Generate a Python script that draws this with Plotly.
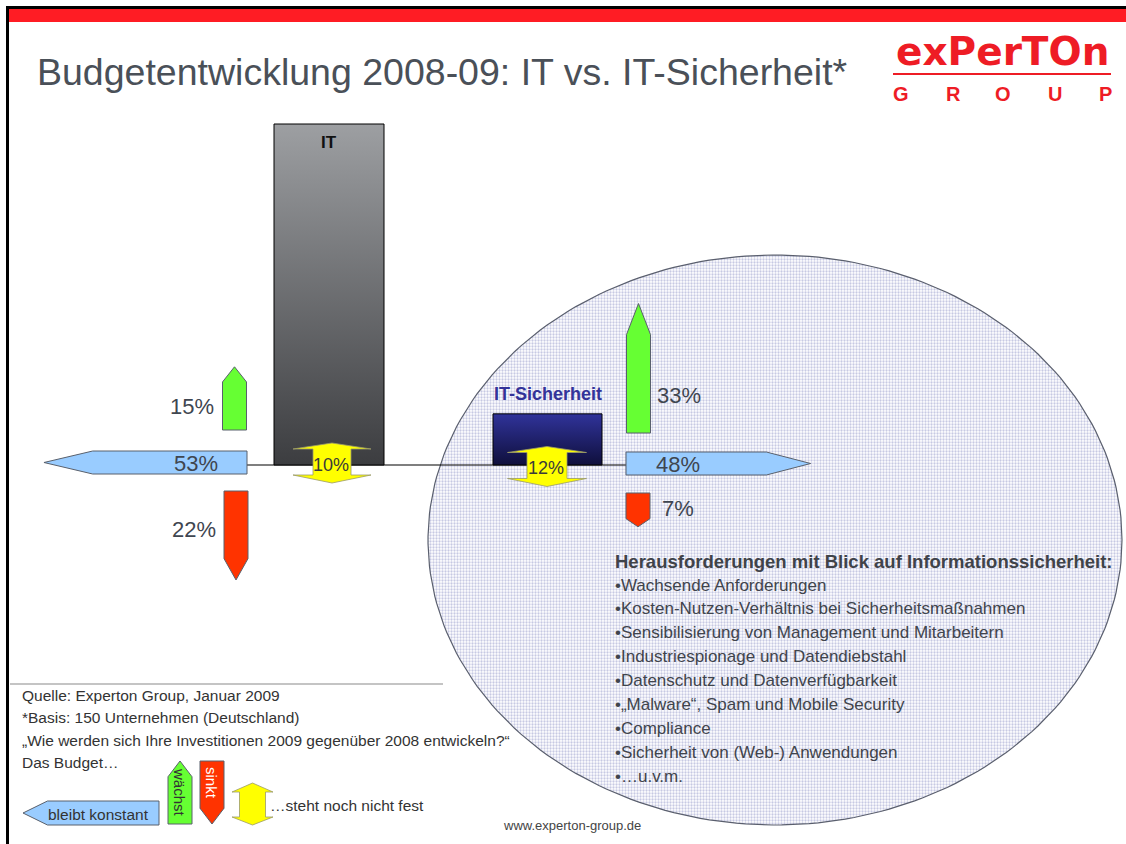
import numpy as np
import plotly.graph_objects as go

# ---------------- data ----------------
groups = ["IT", "IT-Sicherheit"]
budget_index = [100, 15]          # relative budget size (bar height)
pct_waechst = [15, 33]            # budget grows
pct_konstant = [53, 48]           # budget stays constant
pct_sinkt = [22, 7]               # budget shrinks
pct_offen = [10, 12]              # not yet decided

title_text = "Budgetentwicklung 2008-09: IT vs. IT-Sicherheit*"
challenges_title = "Herausforderungen mit Blick auf Informationssicherheit:"
challenges = [
    "Wachsende Anforderungen",
    "Kosten-Nutzen-Verhältnis bei Sicherheitsmaßnahmen",
    "Sensibilisierung von Management und Mitarbeitern",
    "Industriespionage und Datendiebstahl",
    "Datenschutz und Datenverfügbarkeit",
    "„Malware“, Spam und Mobile Security",
    "Compliance",
    "Sicherheit von (Web-) Anwendungen",
    "…u.v.m.",
]
notes = [
    "Quelle: Experton Group, Januar 2009",
    "*Basis: 150 Unternehmen (Deutschland)",
    "„Wie werden sich Ihre Investitionen 2009 gegenüber 2008 entwickeln?“",
    "Das Budget…",
]
legend_labels = ["bleibt konstant", "wächst", "sinkt", "…steht noch nicht fest"]

# ---------------- styling / layout helpers ----------------
W, H = 1126, 844
GREEN, RED, BLUE, YELLOW = "#66ff33", "#ff3300", "#99ccff", "#ffff00"
OUTLINE = "#59606c"
TXT = "#3f4650"
FONT = "Liberation Sans, Arial, sans-serif"

PX_PER_PCT = 3.68
PX_OFFSET = 8.0
BAR_PX = 3.41
BASE_Y = 465

def alen(p):
    return PX_OFFSET + PX_PER_PCT * p

fig = go.Figure()

def poly(xs, ys, fill, line=OUTLINE, width=1, **kw):
    fig.add_trace(go.Scatter(x=list(xs) + [xs[0]], y=list(ys) + [ys[0]], mode="lines",
                             fill="toself", fillcolor=fill,
                             line=dict(color=line, width=width),
                             hoverinfo="skip", showlegend=False, **kw))

def up_arrow(xc, ybase, length, w=24, tipf=0.24, fill=GREEN):
    t = length * tipf
    poly([xc - w/2, xc - w/2, xc, xc + w/2, xc + w/2],
         [ybase, ybase - length + t, ybase - length, ybase - length + t, ybase], fill)

def down_arrow(xc, ytop, length, w=24, tipf=0.24, fill=RED):
    t = length * tipf
    poly([xc - w/2, xc - w/2, xc, xc + w/2, xc + w/2],
         [ytop, ytop + length - t, ytop + length, ytop + length - t, ytop], fill)

def left_arrow(xr, yc, length, h=23, tipf=0.24, fill=BLUE):
    t = length * tipf
    poly([xr, xr - length + t, xr - length, xr - length + t, xr],
         [yc - h/2, yc - h/2, yc, yc + h/2, yc + h/2], fill)

def right_arrow(xl, yc, length, h=23, tipf=0.24, fill=BLUE):
    t = length * tipf
    poly([xl, xl + length - t, xl + length, xl + length - t, xl],
         [yc - h/2, yc - h/2, yc, yc + h/2, yc + h/2], fill)

def double_arrow(xc, yc, hw_head=39, hw_body=19, top=20, top_base=14, bot_base=12, bot=20):
    xs = [xc, xc + hw_head, xc + hw_body, xc + hw_body, xc + hw_head, xc,
          xc - hw_head, xc - hw_body, xc - hw_body, xc - hw_head]
    ys = [yc - top, yc - top_base, yc - top_base, yc + bot_base, yc + bot_base, yc + bot,
          yc + bot_base, yc + bot_base, yc - top_base, yc - top_base]
    poly(xs, ys, YELLOW, line="#9a9a6a", width=0.8)

ann = []
def text(x, y, s, size=14, color=TXT, bold=False, xanchor="center", angle=0, family=FONT):
    ann.append(dict(x=x, y=y, xref="x", yref="y", text=("<b>%s</b>" % s) if bold else s,
                    showarrow=False, xanchor=xanchor, yanchor="middle", textangle=angle,
                    font=dict(size=size, color=color, family=family)))

# ---------------- ellipse (dotted) ----------------
th = np.linspace(0, 2 * np.pi, 240)
ecx, ecy, erx, ery = 775, 540, 347, 285
fig.add_trace(go.Scatter(x=ecx + erx * np.cos(th), y=ecy + ery * np.sin(th), mode="lines",
                         fill="toself", fillcolor="white",
                         fillpattern=dict(shape=".", fgcolor="#8f93c8", bgcolor="white",
                                          size=3, solidity=0.45),
                         line=dict(color="#5a5f6e", width=1.2),
                         hoverinfo="skip", showlegend=False))

# ---------------- baseline ----------------
fig.add_trace(go.Scatter(x=[247, 626], y=[BASE_Y, BASE_Y], mode="lines",
                         line=dict(color="black", width=1.2), hoverinfo="skip", showlegend=False))

# ---------------- bars ----------------
bar_x = [(274, 384), (493, 602)]
bar_cols = [("#9d9fa2", "#3c3d40"), ("#30339a", "#0f0f3c")]
for (x0, x1), v, (c0, c1) in zip(bar_x, budget_index, bar_cols):
    top = BASE_Y - v * BAR_PX
    fig.add_trace(go.Scatter(x=[x0, x1, x1, x0, x0], y=[top, top, BASE_Y, BASE_Y, top],
                             mode="lines", fill="toself",
                             fillgradient=dict(type="vertical", colorscale=[[0, c0], [1, c1]],
                                               start=top, stop=BASE_Y),
                             line=dict(color="black", width=1),
                             hoverinfo="skip", showlegend=False))

text(329, 142, groups[0], size=17, color="#111111", bold=True)
text(548, 394, groups[1], size=18, color="#333399", bold=True)

# ---------------- IT arrows ----------------
up_arrow(234.5, 430, alen(pct_waechst[0]))
down_arrow(236, 491, alen(pct_sinkt[0]))
left_arrow(247, 462.5, alen(pct_konstant[0]))
double_arrow(332, 463)
text(216, 406, f"{pct_waechst[0]}%", size=22, xanchor="right")
text(196, 463, f"{pct_konstant[0]}%", size=22)
text(218, 529, f"{pct_sinkt[0]}%", size=22, xanchor="right")
text(331, 465, f"{pct_offen[0]}%", size=18, color="#3a3a3a")

# ---------------- IT-Sicherheit arrows ----------------
up_arrow(638.5, 433, alen(pct_waechst[1]))
down_arrow(638, 493, alen(pct_sinkt[1]))
right_arrow(626, 463.5, alen(pct_konstant[1]))
double_arrow(547, 466.5, hw_head=39.5, hw_body=20)
text(655, 395, f"{pct_waechst[1]}%", size=22, xanchor="left")
text(678, 464, f"{pct_konstant[1]}%", size=22)
text(660, 508, f"{pct_sinkt[1]}%", size=22, xanchor="left")
text(546, 468, f"{pct_offen[1]}%", size=18, color="#3a3a3a")

# ---------------- challenges text ----------------
text(613, 561, challenges_title, size=18.5, color="#404349", bold=True, xanchor="left")
for i, c in enumerate(challenges):
    text(613, 585 + i * 23.9, "•" + c, size=17, color="#40444c", xanchor="left")

# ---------------- notes ----------------
for i, n in enumerate(notes):
    text(20, 695 + i * 22.5, n, size=15.5, color="#333333", xanchor="left")

# ---------------- legend ----------------
left_arrow(159, 813, 136, h=24, tipf=0.18)
text(98, 814, legend_labels[0], size=15.5, color="#333333")
up_arrow(180, 824, 63, w=24, tipf=0.25)
text(180, 792, legend_labels[1], size=15, color="#333333", angle=90)
down_arrow(212, 761, 63, w=24, tipf=0.25)
text(212, 783, legend_labels[2], size=15, color="white", angle=90)
double_arrow(252.5, 804, hw_head=20.5, hw_body=13, top=21, top_base=12, bot_base=13, bot=21)
text(268, 805, legend_labels[3], size=15.5, color="#333333", xanchor="left")

text(572, 825, "www.experton-group.de", size=13, color="#444444")

# ---------------- title & logo ----------------
text(35, 72, title_text, size=37.5, color="#4a5058", xanchor="left")
text(1002, 51, "exPerTOn", size=39, color="#ee1c25", bold=True,
     family="DejaVu Sans, Liberation Sans, sans-serif")
for lx, l in zip([901, 953, 1003, 1055, 1105], "GROUP"):
    text(lx, 94, l, size=20, color="#ee1c25", bold=True)

shapes = [
    dict(type="rect", x0=9, x1=W, y0=9, y1=22, xref="x", yref="y",
         fillcolor="#ff1c24", line=dict(width=0), layer="below"),
    dict(type="line", x0=6, x1=W, y0=7.5, y1=7.5, xref="x", yref="y",
         line=dict(color="black", width=3)),
    dict(type="line", x0=7.5, x1=7.5, y0=6, y1=H, xref="x", yref="y",
         line=dict(color="black", width=3)),
    dict(type="line", x0=893, x1=1111, y0=74, y1=74, xref="x", yref="y",
         line=dict(color="#ee1c25", width=2)),
    dict(type="line", x0=10, x1=443, y0=684, y1=684, xref="x", yref="y",
         line=dict(color="#8a8a8a", width=1.2)),
]

fig.update_layout(
    width=W, height=H, margin=dict(l=0, r=0, t=0, b=0),
    paper_bgcolor="white", plot_bgcolor="white",
    xaxis=dict(range=[0, W], visible=False, fixedrange=True),
    yaxis=dict(range=[H, 0], visible=False, fixedrange=True),
    annotations=ann, shapes=shapes, showlegend=False,
)

fig.write_html("out.html", config={"displayModeBar": False},
               post_script="document.body.style.margin='0';")
